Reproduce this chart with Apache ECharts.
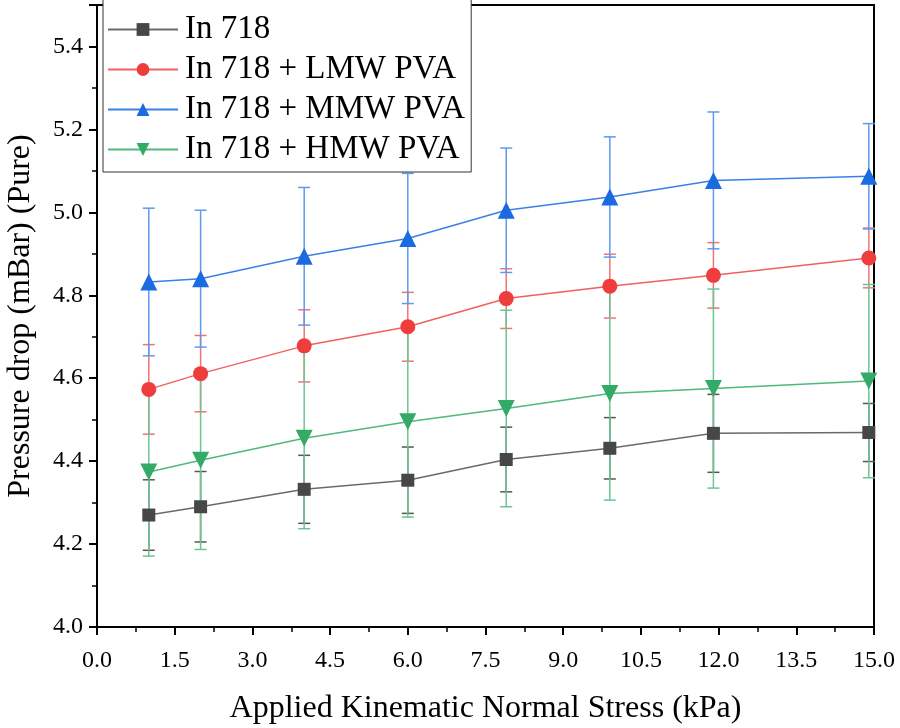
<!DOCTYPE html>
<html lang="en">
<head>
  <meta charset="UTF-8">
  <title>Pressure drop vs normal stress</title>
  <style>
    html, body { margin: 0; padding: 0; background: #fff; }
    #chart { width: 900px; height: 728px; }
  </style>
</head>
<body>
<div id="chart"></div>
<script src="https://cdn.jsdelivr.net/npm/echarts@6/dist/echarts.min.js"></script>
<script>
  // stress values (kPa)
  const stress = [1, 2, 4, 6, 7.9, 9.9, 11.9, 14.9];

  // pressure drop means (mBar)
  const in718 = [4.270, 4.290, 4.332, 4.354, 4.404, 4.431, 4.467, 4.469];
  const lmw = [4.573, 4.611, 4.678, 4.724, 4.792, 4.822, 4.848, 4.890];
  const mmw = [4.832, 4.840, 4.894, 4.937, 5.005, 5.037, 5.077, 5.087];
  const hmw = [4.374, 4.402, 4.455, 4.495, 4.527, 4.563, 4.575, 4.593];

  // standard deviations
  const in718Err = [0.085, 0.085, 0.082, 0.080, 0.078, 0.074, 0.094, 0.070];
  const lmwErr = [0.108, 0.092, 0.087, 0.083, 0.072, 0.077, 0.079, 0.072];
  const mmwErr = [0.178, 0.165, 0.166, 0.157, 0.150, 0.145, 0.165, 0.127];
  const hmwErr = [0.203, 0.215, 0.218, 0.230, 0.237, 0.257, 0.240, 0.233];

  const names = ['In 718', 'In 718 + LMW PVA', 'In 718 + MMW PVA', 'In 718 + HMW PVA'];
  const fontName = '"Liberation Serif", "Times New Roman", serif';

  function pairs(ys) {
    return stress.map((x, i) => [x, ys[i]]);
  }

  function errData(ys, es) {
    return stress.map((x, i) => [x, ys[i] - es[i], ys[i] + es[i]]);
  }

  // error bars drawn as a custom series (vertical line + caps)
  function errSeries(id, ys, es, color) {
    return {
      type: 'custom',
      name: 'err-' + id,
      data: errData(ys, es),
      z: 1,
      silent: true,
      renderItem: function (params, api) {
        const x = api.value(0);
        const lo = api.coord([x, api.value(1)]);
        const hi = api.coord([x, api.value(2)]);
        const w = 6;
        const st = { stroke: color, lineWidth: 1.5 };
        return {
          type: 'group',
          children: [
            { type: 'line', shape: { x1: lo[0], y1: lo[1], x2: hi[0], y2: hi[1] }, style: st },
            { type: 'line', shape: { x1: lo[0] - w, y1: lo[1], x2: lo[0] + w, y2: lo[1] }, style: st },
            { type: 'line', shape: { x1: hi[0] - w, y1: hi[1], x2: hi[0] + w, y2: hi[1] }, style: st }
          ]
        };
      }
    };
  }

  function lineSeries(name, ys, color, lineColor, symbol, size) {
    return {
      type: 'line',
      name: name,
      data: pairs(ys),
      symbol: symbol,
      symbolSize: size,
      z: 3,
      itemStyle: { color: color },
      lineStyle: { color: lineColor, width: 1.5 }
    };
  }

  const chart = echarts.init(document.getElementById('chart'));

  const option = {
    animation: false,
    backgroundColor: '#fff',
    textStyle: { fontFamily: fontName },
    grid: {
      left: 97, right: 26, top: 5, bottom: 101,
      outerBoundsMode: 'none',
      show: true, borderColor: '#000', borderWidth: 2
    },
    legend: {
      orient: 'vertical',
      left: 103,
      top: -6,
      padding: [19, 6, 6, 4],
      backgroundColor: '#fff',
      borderColor: '#333',
      borderWidth: 1,
      itemWidth: 70,
      itemHeight: 16,
      itemGap: 7,
      textStyle: { fontFamily: fontName, fontSize: 33, lineHeight: 33, color: '#000', padding: [0, 0, 0, 2] },
      data: names
    },
    xAxis: {
      type: 'value',
      min: 0,
      max: 15,
      interval: 1.5,
      name: 'Applied Kinematic Normal Stress (kPa)',
      nameLocation: 'middle',
      nameGap: 66,
      nameTextStyle: { fontFamily: fontName, fontSize: 32, color: '#000' },
      axisLine: { lineStyle: { color: '#000', width: 2 } },
      axisTick: { show: true, inside: false, length: 8, lineStyle: { color: '#000', width: 2 } },
      minorTick: { show: true, splitNumber: 2, length: 5, lineStyle: { color: '#000', width: 1.5 } },
      axisLabel: {
        margin: 22,
        fontFamily: fontName,
        fontSize: 24,
        color: '#000',
        formatter: v => v.toFixed(1)
      },
      splitLine: { show: false }
    },
    yAxis: {
      type: 'value',
      min: 4.0,
      max: 5.5,
      interval: 0.2,
      name: 'Pressure drop (mBar) (Pure)',
      nameLocation: 'middle',
      nameGap: 60,
      nameTextStyle: { fontFamily: fontName, fontSize: 32, color: '#000' },
      axisLine: { lineStyle: { color: '#000', width: 2 } },
      axisTick: { show: true, inside: false, length: 8, lineStyle: { color: '#000', width: 2 } },
      minorTick: { show: true, splitNumber: 2, length: 5, lineStyle: { color: '#000', width: 1.5 } },
      axisLabel: {
        margin: 14,
        fontFamily: fontName,
        fontSize: 24,
        color: '#000',
        formatter: v => (Math.abs(v * 5 - Math.round(v * 5)) < 1e-6 ? v.toFixed(1) : '')
      },
      splitLine: { show: false }
    },
    series: [
      errSeries(0, in718, in718Err, '#555555'),
      errSeries(1, lmw, lmwErr, '#f07474'),
      errSeries(2, mmw, mmwErr, '#5e9aec'),
      errSeries(3, hmw, hmwErr, '#6cc493'),
      lineSeries(names[0], in718, '#474747', '#6a6a6a', 'rect', 13),
      lineSeries(names[1], lmw, '#ef3d3d', '#f06060', 'circle', 15),
      lineSeries(names[2], mmw, '#1a6ae0', '#3a80e6', 'triangle', 17),
      lineSeries(names[3], hmw, '#33aa66', '#4fb87c', 'path://M0,0 L10,0 L5,9 Z', 17)
    ]
  };

  chart.setOption(option);
</script>
</body>
</html>
